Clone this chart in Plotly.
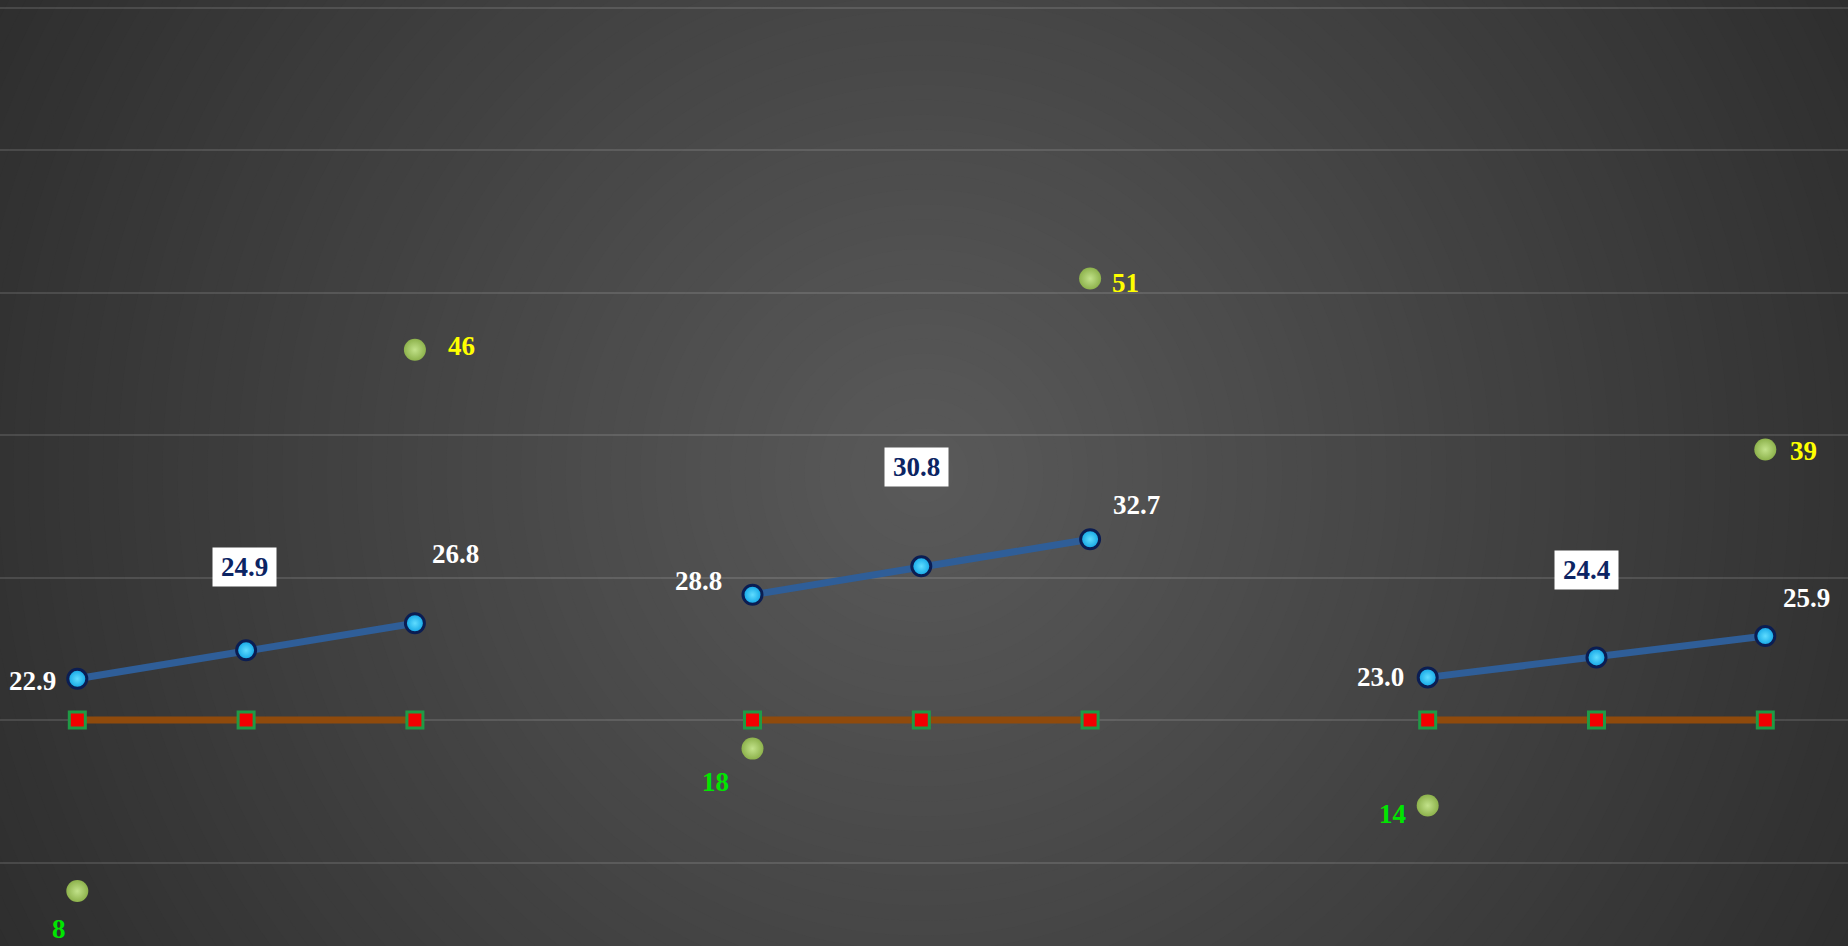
import plotly.graph_objects as go

# ---------------- data ----------------
group_x = [0, 4, 8]              # first x-slot of each group
start_vals = [22.9, 28.8, 23.0]
mid_vals = [24.9, 30.8, 24.4]
end_vals = [26.8, 32.7, 25.9]
target_vals = [20, 20, 20]
min_vals = [8, 18, 14]
max_vals = [46, 51, 39]

# ---------------- styles ----------------
W, H = 1848, 946
FONT = "Liberation Serif, Times New Roman, serif"
# label offsets in pixels (dx right, dy down) — styling only
start_off = [(-45, 2), (-54, -14), (-47, 0)]
mid_off = [(-2, -83), (-5, -99), (-10, -87)]
end_off = [(41, -69), (46, -34), (41, -38)]
min_off = [(-18, 38), (-37, 33), (-35, 8)]
max_off = [(47, -4), (35, 4), (38, 1)]

fig = go.Figure()

# radial gradient background (concentric circles, largest first)
N = 70
R = 1045.0
shapes = []
for k in range(N):
    r = R * (1 - k / N)
    c = int(round(46 + 44 * (k / N)))
    col = f"rgb({c},{c},{c})"
    shapes.append(dict(type="circle", xref="paper", yref="paper",
                       x0=0.5 - r / W, x1=0.5 + r / W,
                       y0=0.5 - r / H, y1=0.5 + r / H,
                       fillcolor=col, line=dict(width=0), layer="below"))

# series traces
bx, by, ox, oy = [], [], [], []
for i, g in enumerate(group_x):
    bx += [g, g + 1, g + 2, None]
    by += [start_vals[i], mid_vals[i], end_vals[i], None]
    ox += [g, g + 1, g + 2, None]
    oy += [target_vals[i]] * 3 + [None]

fig.add_trace(go.Scatter(
    x=ox, y=oy, mode="lines+markers", connectgaps=False,
    line=dict(color="#8f4a0c", width=7),
    marker=dict(symbol="square", size=16, color="#f20000",
                line=dict(color="#1f9a45", width=3)),
    hoverinfo="skip", showlegend=False))

fig.add_trace(go.Scatter(
    x=bx, y=by, mode="lines+markers", connectgaps=False,
    line=dict(color="#2f5e98", width=7),
    marker=dict(symbol="circle", size=19, color="#10a4e4",
                gradient=dict(type="radial", color="#5fdcff"),
                line=dict(color="#0b1d52", width=3)),
    hoverinfo="skip", showlegend=False))

sphere = dict(symbol="circle", size=22, color="#8db24c",
              gradient=dict(type="radial", color="#c2e28a"),
              line=dict(width=0))
fig.add_trace(go.Scatter(
    x=[g for g in group_x], y=min_vals, mode="markers",
    marker=sphere, hoverinfo="skip", showlegend=False))
fig.add_trace(go.Scatter(
    x=[g + 2 for g in group_x], y=max_vals, mode="markers",
    marker=sphere, hoverinfo="skip", showlegend=False))

# annotations
ann = []
def lab(x, y, text, off, color, **kw):
    d = dict(x=x, y=y, xref="x", yref="y", text=f"<b>{text}</b>",
             showarrow=False, xanchor="center", yanchor="middle",
             xshift=off[0], yshift=-off[1],
             font=dict(family=FONT, size=27, color=color))
    d.update(kw)
    ann.append(d)

for i, g in enumerate(group_x):
    lab(g, start_vals[i], f"{start_vals[i]:.1f}", start_off[i], "#ffffff")
    lab(g + 1, mid_vals[i], f"{mid_vals[i]:.1f}", mid_off[i], "#0c2463",
        bgcolor="#ffffff", width=63, height=38, borderpad=0)
    lab(g + 2, end_vals[i], f"{end_vals[i]:.1f}", end_off[i], "#ffffff")
    lab(g, min_vals[i], f"{min_vals[i]}", min_off[i], "#00e600")
    lab(g + 2, max_vals[i], f"{max_vals[i]}", max_off[i], "#ffff00")

fig.update_layout(
    width=W, height=H, margin=dict(l=0, r=0, t=0, b=0),
    paper_bgcolor="#2e2e2e", plot_bgcolor="rgba(0,0,0,0)",
    shapes=shapes, annotations=ann, showlegend=False,
    xaxis=dict(range=[-0.458, 10.49], showgrid=False, zeroline=False,
               showticklabels=False, showline=False, fixedrange=True),
    yaxis=dict(range=[4.14, 70.56], tickvals=[10, 20, 30, 40, 50, 60, 70],
               showgrid=True, gridcolor="rgba(255,255,255,0.12)", gridwidth=2,
               zeroline=False, showticklabels=False, showline=False,
               fixedrange=True),
)

fig.write_html("out.html",
               post_script="document.body.style.margin='0';document.body.style.overflow='hidden';document.body.style.background='#2e2e2e';",
               config={"displayModeBar": False})
